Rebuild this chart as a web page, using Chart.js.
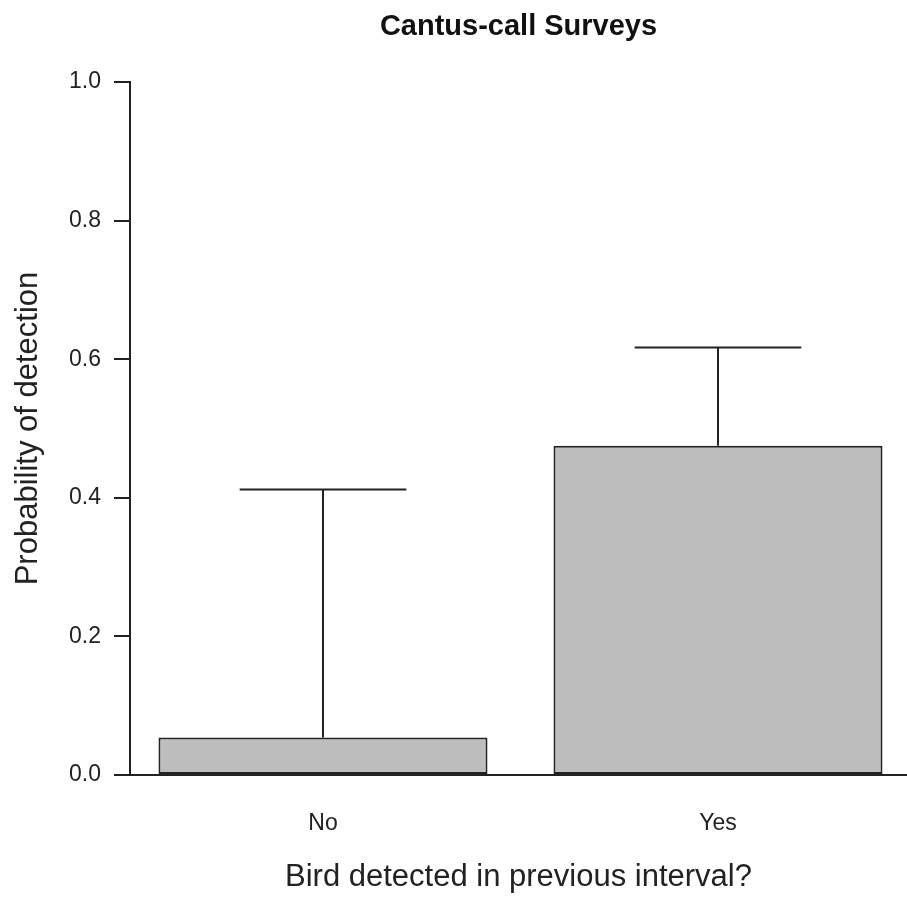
<!DOCTYPE html>
<html>
<head>
<meta charset="utf-8">
<script src="https://cdn.jsdelivr.net/npm/chart.js@4/dist/chart.umd.min.js"></script>
<style>
  html, body { margin: 0; padding: 0; background: #fff; }
  #wrap { width: 907px; height: 897px; }
</style>
</head>
<body>
<div id="wrap"><canvas id="myChart" width="907" height="897"></canvas></div>
<script>
(() => {
  'use strict'

  // data
  const categories = ['No', 'Yes']
  const probability = [0.054, 0.475]
  const upperLimit = [0.412, 0.617]
  const yTicks = [0, 0.2, 0.4, 0.6, 0.8, 1.0]

  const ink = '#222222'
  const font = 'Liberation Sans, Arial, sans-serif'

  // upper error bars with caps, drawn through the scales
  const errorBars = {
    id: 'errorBars',
    afterDatasetsDraw (chart) {
      const { ctx, scales: { x, y } } = chart
      ctx.save()
      ctx.strokeStyle = ink
      ctx.lineWidth = 2
      categories.forEach((c, i) => {
        const px = x.getPixelForValue(i)
        const half = x.getPixelForValue(i + 0.211) - px
        const top = y.getPixelForValue(upperLimit[i])
        const base = y.getPixelForValue(probability[i])
        ctx.beginPath()
        ctx.moveTo(px, base)
        ctx.lineTo(px, top)
        ctx.moveTo(px - half, top)
        ctx.lineTo(px + half, top)
        ctx.stroke()
      })
      ctx.restore()
    }
  }

  const ctx = document.getElementById('myChart')
  // eslint-disable-next-line no-unused-vars
  const myChart = new Chart(ctx, {
    type: 'bar',
    data: {
      datasets: [{
        data: probability.map((v, i) => ({ x: i, y: v })),
        backgroundColor: '#bdbdbd',
        borderColor: ink,
        borderWidth: 2,
        borderSkipped: false,
        barPercentage: 0.833,
        categoryPercentage: 1
      }]
    },
    options: {
      responsive: false,
      animation: false,
      layout: { padding: 0 },
      plugins: {
        legend: { display: false },
        tooltip: { enabled: false },
        title: {
          display: true,
          fullSize: false,
          text: 'Cantus-call Surveys',
          color: '#111',
          font: { family: font, size: 29, weight: 'bold', lineHeight: 1.2 },
          padding: { top: 10, bottom: 37.2 }
        }
      },
      scales: {
        x: {
          type: 'linear',
          offset: false,
          min: -0.4886,
          max: 1.4785,
          afterBuildTicks: (scale) => {
            scale.ticks = categories.map((c, i) => ({ value: i }))
          },
          afterFit: (scale) => { scale.height = 122 },
          grid: { display: false, offset: false },
          border: { display: true, color: ink, width: 2 },
          ticks: {
            color: ink,
            padding: 27,
            font: { family: font, size: 23 },
            callback: (v) => categories[v]
          },
          title: {
            display: true,
            text: 'Bird detected in previous interval?',
            color: ink,
            font: { family: font, size: 31, lineHeight: 1.2 },
            padding: { top: 0, bottom: 1 }
          }
        },
        y: {
          min: 0,
          max: 1,
          afterBuildTicks: (scale) => {
            scale.ticks = yTicks.map(v => ({ value: v }))
          },
          afterFit: (scale) => { scale.width = 130 },
          grid: {
            drawOnChartArea: false,
            drawTicks: true,
            tickLength: 16,
            color: ink,
            lineWidth: 2
          },
          border: { display: true, color: ink, width: 2 },
          ticks: {
            color: ink,
            padding: 13,
            font: { family: font, size: 23 },
            callback: (v) => v.toFixed(1)
          },
          title: {
            display: true,
            text: 'Probability of detection',
            color: ink,
            font: { family: font, size: 31, lineHeight: 1.2 },
            padding: { top: 9.4, bottom: 0 }
          }
        }
      }
    },
    plugins: [errorBars]
  })
})()
</script>
</body>
</html>
